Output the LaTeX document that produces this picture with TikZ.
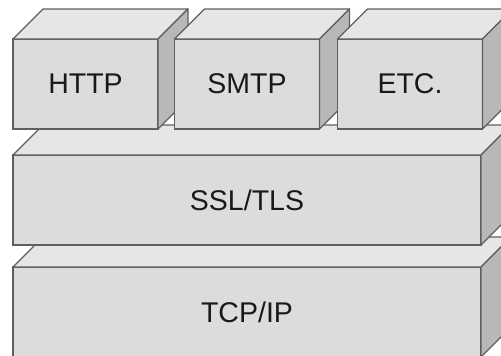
\documentclass[tikz,border=0pt]{standalone}
\usepackage{fontspec}
\setmainfont{Liberation Sans}
\usetikzlibrary{positioning}
\definecolor{frontgray}{RGB}{220,220,220}
\definecolor{topgray}{RGB}{230,230,230}
\definecolor{sidegray}{RGB}{184,184,184}
\definecolor{edgegray}{RGB}{95,95,95}

\begin{document}
\begin{tikzpicture}[x=1pt,y=-1pt,
    front/.style={draw=edgegray,line width=1.3pt,fill=frontgray,inner sep=0pt,outer sep=0pt,
      minimum height=90pt,font=\fontsize{28.5}{32}\selectfont,text=black!90},
    face/.style={draw=edgegray,line width=1.3pt,line join=round}]
    \useasboundingbox (0,0) rectangle (501,356);
    \clip (0,0) rectangle (501,356);

    % bottom layer
    \node[front,minimum width=468pt] (tcp) at (247,312) {TCP/IP};
    \draw[face,fill=topgray] (tcp.north west) -- ++(30,-30) -- ([shift={(30,-30)}]tcp.north east) -- (tcp.north east) -- cycle;
    \draw[face,fill=sidegray] (tcp.north east) -- ++(30,-30) -- ([shift={(30,-30)}]tcp.south east) -- (tcp.south east) -- cycle;

    % middle layer
    \node[front,minimum width=468pt] (ssl) at (247,200) {SSL/TLS};
    \draw[face,fill=topgray] (ssl.north west) -- ++(30,-30) -- ([shift={(30,-30)}]ssl.north east) -- (ssl.north east) -- cycle;
    \draw[face,fill=sidegray] (ssl.north east) -- ++(30,-30) -- ([shift={(30,-30)}]ssl.south east) -- (ssl.south east) -- cycle;

    % application protocols
    \foreach \name/\lbl/\cx in {http/HTTP/85.5,smtp/SMTP/247,etc/ETC./410}{
      \node[front,minimum width=145pt] (\name) at (\cx,84) {\lbl};
      \draw[face,fill=topgray] (\name.north west) -- ++(30,-30) -- ([shift={(30,-30)}]\name.north east) -- (\name.north east) -- cycle;
      \draw[face,fill=sidegray] (\name.north east) -- ++(30,-30) -- ([shift={(30,-30)}]\name.south east) -- (\name.south east) -- cycle;
    }
\end{tikzpicture}
\end{document}
